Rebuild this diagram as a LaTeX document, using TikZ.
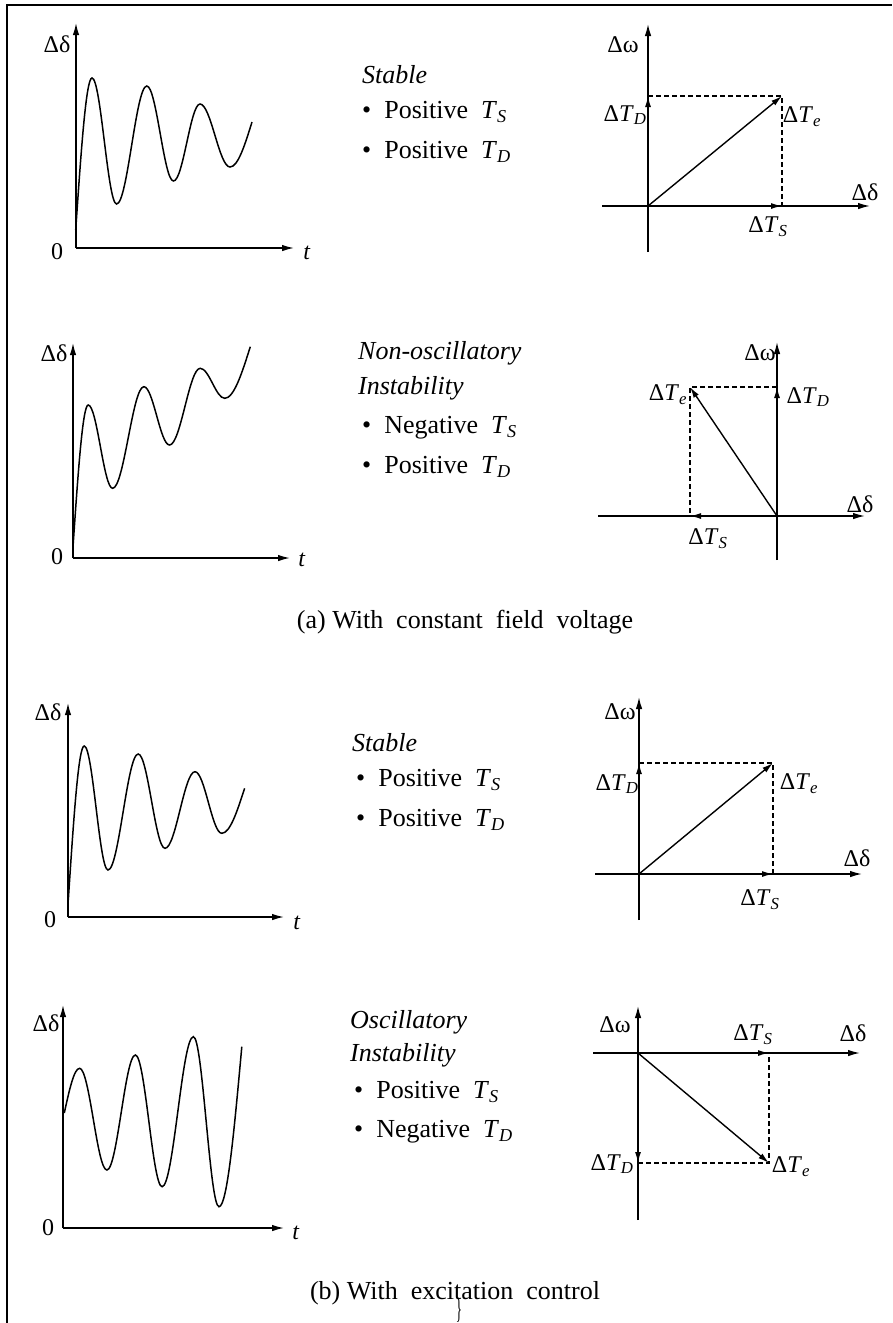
\documentclass[tikz,border=0pt]{standalone}
\usepackage{graphicx}
\usepackage{fontspec}
\setmainfont{Liberation Serif}
\usetikzlibrary{arrows.meta}
\newcommand{\dT}[1]{Δ\textit{T}\textsubscript{\textit{#1}}}
\newcommand{\bigtext}{\fontsize{26}{30}\selectfont}

\begin{document}
\begin{tikzpicture}[x=1pt,y=-1pt,
    axisline/.style={line width=1.4pt,-{Latex[length=12pt,width=6.5pt]}},
    vec/.style={line width=1.4pt,-{Latex[length=11pt,width=6pt]}},
    proj/.style={line width=1.2pt,dash pattern=on 5pt off 3pt},
    wave/.style={line width=1.5pt},
    lbl/.style={inner sep=0pt,font=\fontsize{24}{28}\selectfont},
    txt/.style={inner sep=0pt,anchor=west,font=\bigtext}]
  \useasboundingbox (0,0) rectangle (892,1323);
  % frame
  \coordinate (fa) at (7,1323);
  \coordinate (fb) at (7,5);
  \coordinate (fc) at (892,5);
  \draw[line width=2pt] (fa) -- (fb) -- (fc);

  % (a) stable: time response
  \coordinate (o1) at (76,248);
  \coordinate (y1) at (76,23);
  \coordinate (t1) at (294,248);
  \draw[axisline] (o1) -- (y1);
  \draw[axisline] (o1) -- (t1);
  \node[lbl] (dd1) at (57,44) {Δδ};
  \node[lbl] (zero1) at (57,252) {0};
  \node[lbl] (tl1) at (307,253) {\textit{t}};
  \draw[wave] (75.7,230) sin (92,78) cos (104.3,141) sin (116.6,204)
    cos (131.7,145) sin (146.8,86) cos (160.2,133.5) sin (173.5,181)
    cos (186.8,142.5) sin (200,104) cos (215,135.5) sin (230,167)
    cos (252,122);
  \node[txt] (st1) at (362,75) {\textit{Stable}};
  \node[txt] (ts1) at (362,112) {\textbullet\ \ Positive\ \ \textit{T}\textsubscript{\textit{S}}};
  \node[txt] (td1) at (362,152) {\textbullet\ \ Positive\ \ \textit{T}\textsubscript{\textit{D}}};
  % (a) stable: phasors
  \coordinate (p1) at (648,206);
  \coordinate (w1) at (648,24);
  \coordinate (b1) at (648,252);
  \coordinate (l1) at (602,206);
  \coordinate (r1) at (870,206);
  \coordinate (e1) at (782,96);
  \coordinate (s1) at (782,206);
  \coordinate (d1) at (648,96);
  \draw[axisline] (b1) -- (w1);
  \draw[axisline] (l1) -- (r1);
  \draw[proj] (d1) -- (e1) -- (s1);
  \draw[vec] (p1) -- (e1);
  \draw[vec] (p1) -- (s1);
  \draw[vec] (p1) -- (d1);
  \node[lbl] (dw1) at (623,45) {Δω};
  \node[lbl] (ltd1) at (625,115) {\dT{D}};
  \node[lbl] (lte1) at (802,117) {\dT{e}};
  \node[lbl] (ldd1) at (865,192) {Δδ};
  \node[lbl] (lts1) at (768,227) {\dT{S}};

  % (a) non-oscillatory instability: time response
  \coordinate (o2) at (73,558);
  \coordinate (y2) at (73,343);
  \coordinate (t2) at (290,558);
  \draw[axisline] (o2) -- (y2);
  \draw[axisline] (o2) -- (t2);
  \node[lbl] (dd2) at (54,353) {Δδ};
  \node[lbl] (zero2) at (57,557) {0};
  \node[lbl] (tl2) at (302,560) {\textit{t}};
  \draw[wave] (73,547) sin (88.2,405) cos (100.4,446.7) sin (112.6,488.3)
    cos (128.3,437.5) sin (143.9,386.7) cos (156.7,415.8) sin (169.5,445)
    cos (184.9,406.7) sin (200.2,368.3) cos (212.5,383.3) sin (224.7,398.3)
    cos (250.3,346.7);
  \node[txt] (st2) at (358,353) {\textit{Non-oscillatory}};
  \node[txt] (st2b) at (358,388) {\textit{Instability}};
  \node[txt] (ts2) at (362,428) {\textbullet\ \ Negative\ \ \textit{T}\textsubscript{\textit{S}}};
  \node[txt] (td2) at (362,467) {\textbullet\ \ Positive\ \ \textit{T}\textsubscript{\textit{D}}};
  % (a) non-oscillatory instability: phasors
  \coordinate (p2) at (777,516);
  \coordinate (w2) at (777,342);
  \coordinate (b2) at (777,560);
  \coordinate (l2) at (598,516);
  \coordinate (r2) at (865,516);
  \coordinate (e2) at (690,387);
  \coordinate (s2) at (690,516);
  \coordinate (d2) at (777,387);
  \draw[axisline] (b2) -- (w2);
  \draw[axisline] (l2) -- (r2);
  \draw[proj] (d2) -- (e2) -- (s2);
  \draw[vec] (p2) -- (e2);
  \draw[vec] (p2) -- (s2);
  \draw[vec] (p2) -- (d2);
  \node[lbl] (dw2) at (760,353) {Δω};
  \node[lbl] (ltd2) at (808,397) {\dT{D}};
  \node[lbl] (lte2) at (668,395) {\dT{e}};
  \node[lbl] (ldd2) at (860,504) {Δδ};
  \node[lbl] (lts2) at (708,539) {\dT{S}};

  \node[inner sep=0pt,font=\bigtext] (capa) at (465,622)
    {(a)\ With\ \ constant\ \ field\ \ voltage};

  % (b) stable: time response
  \coordinate (o3) at (68,917);
  \coordinate (y3) at (68,703);
  \coordinate (t3) at (284,917);
  \draw[axisline] (o3) -- (y3);
  \draw[axisline] (o3) -- (t3);
  \node[lbl] (dd3) at (48,712) {Δδ};
  \node[lbl] (zero3) at (50,920) {0};
  \node[lbl] (tl3) at (297,923) {\textit{t}};
  \draw[wave] (68.3,900) sin (84.2,746) cos (96.1,808) sin (108,870)
    cos (123.1,812) sin (138.2,754) cos (151.6,801.2) sin (165,848.3)
    cos (180,810) sin (195,771.7) cos (208.4,802.5) sin (221.8,833.3)
    cos (244.6,788.3);
  \node[txt] (st3) at (352,743) {\textit{Stable}};
  \node[txt] (ts3) at (356,780) {\textbullet\ \ Positive\ \ \textit{T}\textsubscript{\textit{S}}};
  \node[txt] (td3) at (356,820) {\textbullet\ \ Positive\ \ \textit{T}\textsubscript{\textit{D}}};
  % (b) stable: phasors
  \coordinate (p3) at (639,874);
  \coordinate (w3) at (639,697);
  \coordinate (b3) at (639,920);
  \coordinate (l3) at (595,874);
  \coordinate (r3) at (862,874);
  \coordinate (e3) at (773,763);
  \coordinate (s3) at (773,874);
  \coordinate (d3) at (639,763);
  \draw[axisline] (b3) -- (w3);
  \draw[axisline] (l3) -- (r3);
  \draw[proj] (d3) -- (e3) -- (s3);
  \draw[vec] (p3) -- (e3);
  \draw[vec] (p3) -- (s3);
  \draw[vec] (p3) -- (d3);
  \node[lbl] (dw3) at (620,712) {Δω};
  \node[lbl] (ltd3) at (617,784) {\dT{D}};
  \node[lbl] (lte3) at (799,784) {\dT{e}};
  \node[lbl] (ldd3) at (857,858) {Δδ};
  \node[lbl] (lts3) at (760,900) {\dT{S}};

  % (b) oscillatory instability: time response
  \coordinate (o4) at (63,1228);
  \coordinate (y4) at (63,1005);
  \coordinate (t4) at (284,1228);
  \draw[axisline] (o4) -- (y4);
  \draw[axisline] (o4) -- (t4);
  \node[lbl] (dd4) at (46,1023) {Δδ};
  \node[lbl] (zero4) at (48,1228) {0};
  \node[lbl] (tl4) at (296,1233) {\textit{t}};
  \draw[wave] (64.3,1113) sin (79.6,1068.3) cos (93.3,1119.2) sin (106.9,1170)
    cos (121.2,1112.5) sin (135.4,1055) cos (148.8,1120.8) sin (162.1,1186.7)
    cos (177.8,1111.7) sin (193.4,1036.7) cos (206.2,1121.7) sin (219,1206.7)
    cos (241.8,1046.7);
  \node[txt] (st4) at (350,1022) {\textit{Oscillatory}};
  \node[txt] (st4b) at (350,1055) {\textit{Instability}};
  \node[txt] (ts4) at (354,1092) {\textbullet\ \ Positive\ \ \textit{T}\textsubscript{\textit{S}}};
  \node[txt] (td4) at (354,1132) {\textbullet\ \ Negative\ \ \textit{T}\textsubscript{\textit{D}}};
  % (b) oscillatory instability: phasors
  \coordinate (p4) at (638,1053);
  \coordinate (w4) at (638,1006);
  \coordinate (b4) at (638,1220);
  \coordinate (l4) at (593,1053);
  \coordinate (r4) at (860,1053);
  \coordinate (e4) at (769,1163);
  \coordinate (s4) at (769,1053);
  \coordinate (d4) at (638,1163);
  \draw[axisline] (b4) -- (w4);
  \draw[axisline] (l4) -- (r4);
  \draw[proj] (d4) -- (e4) -- (s4);
  \draw[vec] (p4) -- (e4);
  \draw[vec] (p4) -- (s4);
  \draw[vec] (p4) -- (d4);
  \node[lbl] (dw4) at (615,1025) {Δω};
  \node[lbl] (lts4) at (753,1035) {\dT{S}};
  \node[lbl] (ldd4) at (853,1033) {Δδ};
  \node[lbl] (ltd4) at (612,1164) {\dT{D}};
  \node[lbl] (lte4) at (791,1167) {\dT{e}};

  \node[inner sep=0pt,font=\bigtext] (capb) at (455,1293)
    {(b)\ With\ \ excitation\ \ control};
  \node[inner sep=0pt,font=\bigtext] (brace) at (459,1310)
    {\scalebox{0.5}[1.1]{\}}};
\end{tikzpicture}
\end{document}
